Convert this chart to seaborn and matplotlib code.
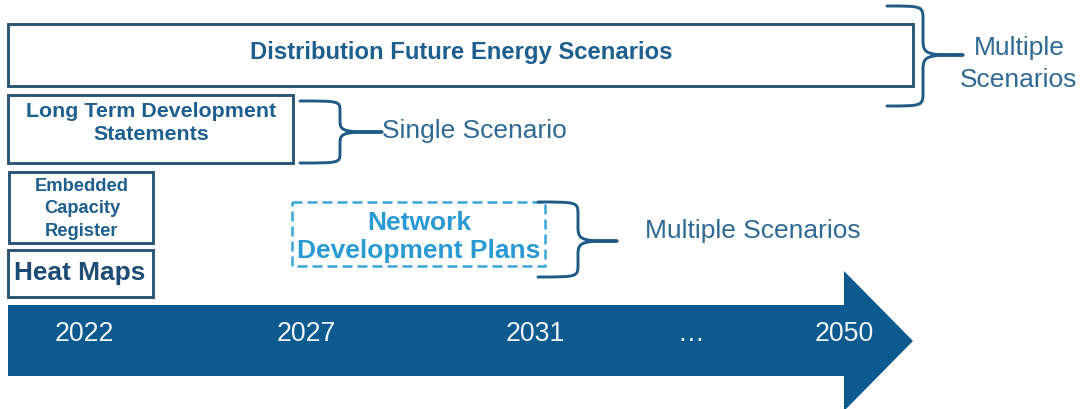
import matplotlib
matplotlib.use("Agg")
import matplotlib.pyplot as plt
import seaborn as sns
from matplotlib.patches import Rectangle, Polygon, PathPatch
from matplotlib.path import Path

# Inhalte des Diagramms
box_labels = ["Distribution Future Energy Scenarios",
              "Long Term Development\nStatements",
              "Embedded\nCapacity\nRegister",
              "Heat Maps"]
plan_label = "Network\nDevelopment Plans"
scenario_labels = ["Multiple\nScenarios", "Single Scenario", "Multiple Scenarios"]
years = ["2022", "2027", "2031", "…", "2050"]

# Layout in Pixeln (x0, y0, x1, y1), y nach unten
box_layout = [(8, 25, 913, 87), (8, 96, 293, 164), (9, 173, 153, 244), (8, 251, 153, 298)]
# x, y, Schriftgröße, Zeilenabstand, Farbe
box_text = [(461, 52, 17.2, 1.2, "#1d5f8f"), (151, 123, 15.4, 1.25, "#1d5f8f"),
            (82, 209, 13.2, 1.42, "#1d5f8f"), (80, 273, 18.9, 1.2, "#1c4c74")]
plan_layout = (292, 203, 545, 267)
# Klammern: x0, xs, xt, ytop, ymid, ybot
braces = [(887, 923, 963, 7, 56, 107), (300, 340, 382, 102, 133, 164), (538, 578, 617, 203, 242, 278)]
scen_text = [(1019, 64, "center", 1.47), (382, 131, "left", 1.2), (645, 231, "left", 1.2)]
year_x = [84, 306, 535, 691, 844]

sns.set_theme(style="white")
plt.rcParams['font.family'] = ['Liberation Sans', 'DejaVu Sans']

fig = plt.figure(figsize=(10.82, 4.10), dpi=100)
ax = fig.add_axes([0, 0, 1, 1])
ax.set_xlim(0, 1082)
ax.set_ylim(410, 0)
ax.axis("off")

edge = "#2a5676"
for (x0, y0, x1, y1), lab, (tx, ty, fs, ls, col) in zip(box_layout, box_labels, box_text):
    ax.add_patch(Rectangle((x0, y0), x1 - x0, y1 - y0, fill=False, ec=edge, lw=2.1))
    ax.text(tx, ty, lab, ha="center", va="center", fontsize=fs, fontweight="bold",
            color=col, linespacing=ls)

# gestrichelte Box
px0, py0, px1, py1 = plan_layout
ax.add_patch(Rectangle((px0, py0), px1 - px0, py1 - py0, fill=False, ec="#3aa6d8",
                       lw=1.8, ls=(0, (4, 2))))
ax.text(419, 237, plan_label, ha="center", va="center", fontsize=19,
        fontweight="bold", color="#2a9ad3", linespacing=1.25)

# geschweifte Klammern
def draw_brace(x0, xs, xt, ytop, ymid, ybot):
    r = min(14, (ymid - ytop) / 3)
    verts = [(x0, ytop), (xs, ytop), (xs, ytop), (xs, ytop + r),
             (xs, ymid - r),
             (xs, ymid), (xs + 6, ymid), (xt, ymid),
             (xs + 6, ymid), (xs, ymid), (xs, ymid + r),
             (xs, ybot - r),
             (xs, ybot), (xs, ybot), (x0, ybot)]
    codes = [Path.MOVETO, Path.CURVE4, Path.CURVE4, Path.CURVE4,
             Path.LINETO,
             Path.CURVE4, Path.CURVE4, Path.CURVE4,
             Path.CURVE4, Path.CURVE4, Path.CURVE4,
             Path.LINETO,
             Path.CURVE4, Path.CURVE4, Path.CURVE4]
    ax.add_patch(PathPatch(Path(verts, codes), fill=False, ec="#1f5a86", lw=2.1,
                           capstyle="round", joinstyle="round"))

for b in braces:
    draw_brace(*b)

for lab, (tx, ty, ha, ls) in zip(scenario_labels, scen_text):
    ax.text(tx, ty, lab, ha=ha, va="center", fontsize=19, color="#2e6a94", linespacing=ls)

# Zeitpfeil
arrow = [(8, 306), (844, 306), (844, 272), (913, 342), (844, 412), (844, 377), (8, 377)]
ax.add_patch(Polygon(arrow, closed=True, fc="#0d5a8e", ec="none"))
for x, y in zip(year_x, years):
    ax.text(x, 334, y, ha="center", va="center", fontsize=19.3, color="#eef3f8")

fig.savefig("out.png", dpi=100, facecolor="white")
